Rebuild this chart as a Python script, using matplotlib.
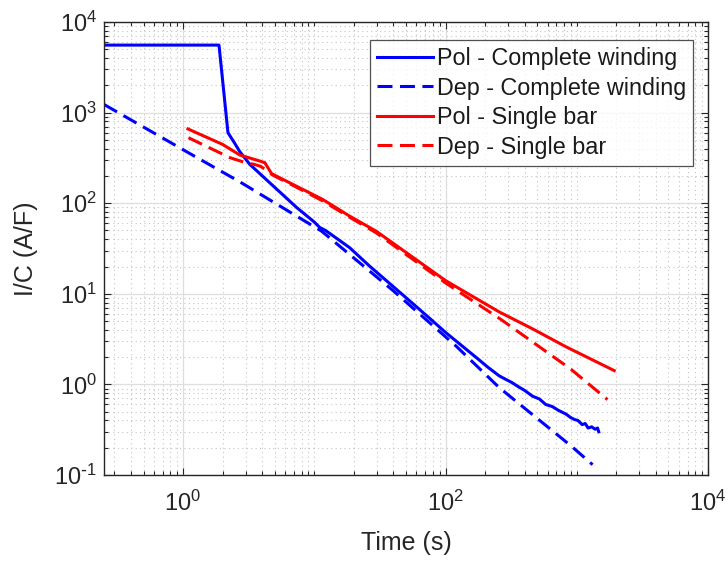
import numpy as np
import matplotlib
matplotlib.use("Agg")
import matplotlib.pyplot as plt
from matplotlib.ticker import LogLocator, FuncFormatter, NullFormatter, FixedLocator

plt.rcParams['font.family'] = ['Liberation Sans', 'DejaVu Sans']
plt.rcParams['mathtext.default'] = 'regular'

# ---- data ----
t_pol_cw = [0.25, 1.88, 2.2, 2.45, 2.71, 3.23, 4.5, 7.32, 10.0, 11.0, 12.2, 18.6, 26.4, 40, 60, 80, 100,
            130, 170, 210, 257, 290, 320, 360, 400, 461, 520, 580, 650, 720, 828, 900, 960,
            1020, 1100, 1160, 1220, 1300, 1380, 1440, 1470]
i_pol_cw = [5560, 5560, 600, 470, 370, 268, 172, 90, 62, 54, 50, 32.3, 20.2, 12.0, 7.2, 5.0, 3.75,
            2.75, 2.0, 1.55, 1.24, 1.13, 1.05, 0.94, 0.86, 0.74, 0.69, 0.60, 0.57, 0.52, 0.47, 0.43, 0.41,
            0.40, 0.36, 0.37, 0.33, 0.34, 0.32, 0.33, 0.30]

t_dep_cw = [0.25, 1.09, 2.71, 11.4, 40, 121, 257, 903, 1320]
i_dep_cw = [1230, 363, 172, 49, 10.8, 2.63, 0.92, 0.21, 0.13]

t_pol_sb = [1.09, 2.0, 2.71, 3.85, 4.2, 4.73, 7.32, 11.6, 18.6, 29.7, 100, 257, 461, 828, 1930]
i_pol_sb = [660, 446, 340, 292, 280, 212, 154, 110, 72, 49, 14, 6.3, 4.1, 2.6, 1.42]

t_dep_sb = [1.1, 2.28, 3.0, 3.5, 3.9, 4.4, 4.8, 7.32, 11.6, 18.6, 29.7, 100, 265, 490, 903, 1715]
i_dep_sb = [528, 318, 280, 268, 255, 228, 205, 150, 106, 70, 47, 13.2, 5.2, 2.76, 1.47, 0.68]

labels = ['Pol - Complete winding', 'Dep - Complete winding', 'Pol - Single bar', 'Dep - Single bar']
x_major = [1, 100, 1e4]


def pow_label(v, _pos):
    e = int(round(np.log10(v)))
    s = str(e).replace('-', r'\text{-}')
    return r'$\mathdefault{10^{%s}}$' % s


# ---- figure ----
fig = plt.figure(figsize=(7.28, 5.62), dpi=100)
ax = fig.add_axes([104/728, 1-475/562, (708-104)/728, (475-22)/562])

lw = 2.2
dash = (4.9, 2.45)
ax.plot(t_pol_cw, i_pol_cw, color='#0000ff', lw=lw, label=labels[0])
ax.plot(t_dep_cw, i_dep_cw, color='#0000ff', lw=lw, dashes=dash, label=labels[1])
ax.plot(t_pol_sb, i_pol_sb, color='#ff0000', lw=lw, label=labels[2])
ax.plot(t_dep_sb, i_dep_sb, color='#ff0000', lw=lw, dashes=dash, label=labels[3])

ax.set_xscale('log')
ax.set_yscale('log')
ax.set_xlim(0.25, 1e4)
ax.set_ylim(0.1, 1e4)

ax.xaxis.set_major_locator(FixedLocator(x_major))
ax.xaxis.set_major_formatter(FuncFormatter(pow_label))
ax.xaxis.set_minor_locator(LogLocator(base=10, subs=np.arange(1, 10), numticks=30))
ax.xaxis.set_minor_formatter(NullFormatter())
ax.yaxis.set_major_locator(LogLocator(base=10, numticks=10))
ax.yaxis.set_major_formatter(FuncFormatter(pow_label))
ax.yaxis.set_minor_locator(LogLocator(base=10, subs=np.arange(2, 10), numticks=30))
ax.yaxis.set_minor_formatter(NullFormatter())

tc = '#262626'
ax.grid(True, which='major', color='#dedede', lw=0.9, ls='-')
ax.grid(True, which='minor', color='#c4c4c4', lw=0.8, ls=(0, (1, 3)))
ax.set_axisbelow(True)

for s in ax.spines.values():
    s.set_color(tc)
    s.set_linewidth(1.0)

ax.tick_params(which='both', direction='in', top=True, right=True, colors=tc, width=0.8)
ax.tick_params(which='major', length=5)
ax.tick_params(which='minor', length=3)
ax.tick_params(axis='x', which='major', labelsize=17, pad=11, labelcolor=tc)
ax.tick_params(axis='y', which='major', labelsize=17, pad=5, labelcolor=tc)

ax.set_xlabel('Time (s)', fontsize=18, color=tc, labelpad=11)
ax.set_ylabel('I/C (A/F)', fontsize=18, color=tc, labelpad=12)

leg = ax.legend(loc='upper right', bbox_to_anchor=(693/728, 1-40/562), bbox_transform=fig.transFigure,
                fontsize=16.8, frameon=True, fancybox=False, handlelength=2.4, handletextpad=0.17,
                labelspacing=0.28, borderpad=0.3, borderaxespad=0)
leg.get_frame().set_edgecolor(tc)
leg.get_frame().set_linewidth(0.9)
for t in leg.get_texts():
    t.set_color('#1a1a1a')

fig.savefig('out.png', dpi=100)
